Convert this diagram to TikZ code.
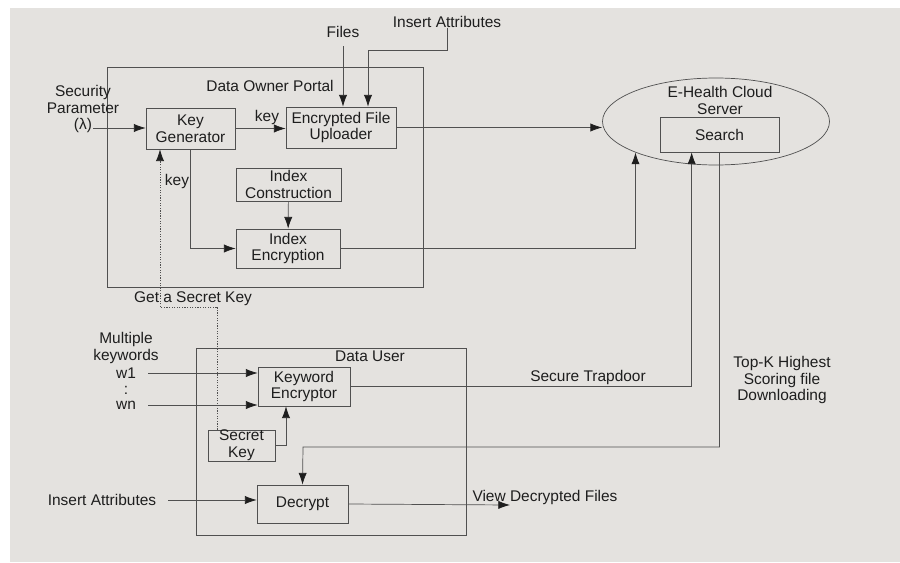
\documentclass[tikz,border=0pt]{standalone}
\usepackage{fontspec}
\setmainfont{Liberation Sans}
\usetikzlibrary{arrows.meta, shapes.geometric, calc, positioning}
\definecolor{paper}{HTML}{E4E2DF}
\definecolor{ink}{HTML}{1E1E1E}
\definecolor{linegray}{HTML}{505050}

\begin{document}
\begin{tikzpicture}[x=0.03cm, y=-0.03cm, font=\fontsize{13.2}{14.5}\selectfont, text=ink,
    sz/.style 2 args={minimum width=#1*0.03cm, minimum height=#2*0.03cm},
    box/.style={draw=linegray, line width=0.6pt, align=center, inner sep=0pt},
    lbl/.style={align=center, inner sep=0pt},
    conn/.style={draw=linegray, line width=0.6pt, -{Latex[length=10pt,width=7pt,color=ink]}}]
    \useasboundingbox (0,0) rectangle (900,562);
    \fill[paper] (10,8) rectangle (900,562);

    % data owner side
    \node[box, sz={316}{220}] (owner) at (265,177) {};
    \node[lbl] (ownertxt) at (270,86) {Data Owner Portal};
    \node[box, sz={89}{41}] (keygen) at (190.5,128.5) {Key\\Generator};
    \node[box, sz={110}{41}] (upl) at (341,127.5) {Encrypted File\\Uploader};
    \node[box, sz={105}{33}] (idxcon) at (288.5,184.5) {Index\\Construction};
    \node[box, sz={104}{39}] (idxenc) at (288,248.5) {Index\\Encryption};
    \node[lbl] (secparam) at (83,109) {Security\\Parameter\\(λ)};
    \coordinate (secin) at (93,128);
    \node[lbl] (files) at (343,32) {Files};
    \node[lbl] (insattr) at (447,22) {Insert Attributes};
    \coordinate (iaturn) at (368,50);
    \node[lbl] (key1) at (267,118) {key};
    \node[lbl] (key2) at (177,182) {key};

    % cloud
    \node[box, ellipse, sz={227}{87}] (cloud) at (716,121.5) {};
    \node[lbl] (cloudtxt) at (720,100) {E-Health Cloud\\Server};
    \node[box, sz={119}{35}] (search) at (719.5,134.5) {Search};

    % data user side
    \node[box, sz={270}{187}] (user) at (331,441.5) {};
    \node[lbl] (usertxt) at (370,356) {Data User};
    \node[box, sz={92}{39}] (kwenc) at (304,386.5) {Keyword\\Encryptor};
    \node[box, sz={67}{27}] (skey) at (241.5,445.5) {Secret\\Key};
    \node[box, sz={91}{38}] (decrypt) at (302.5,504) {Decrypt};
    \node[lbl] (getsk) at (193,299) {Get a Secret Key};
    \coordinate (gsk) at (160,307);
    \node[lbl] (multi) at (126,348) {Multiple\\keywords};
    \node[lbl] (w1) at (126,373) {w1};
    \node[lbl] (dots) at (126,390) {:};
    \node[lbl] (wn) at (126,405) {wn};
    \node[lbl] (insattr2) at (102,500) {Insert Attributes};
    \node[lbl] (trap) at (588,377) {Secure Trapdoor};
    \node[lbl] (topk) at (782,380) {Top-K Highest\\Scoring file\\Downloading};
    \coordinate (dlturn) at (303,447);
    \node[lbl] (view) at (545,497) {View Decrypted Files};
    \coordinate (viewend) at (510,505);

    \draw[conn] (secin) -- (secin -| keygen.west);
    \draw[conn] (keygen.east) -- (keygen.east -| upl.west);
    \draw[conn, shorten <=0.25cm] (files.south) -- (files.south |- upl.north);
    \draw[conn] (insattr.south) |- (iaturn) -- (iaturn |- upl.north);
    \draw[conn] (keygen.south) |- (idxenc.west);
    \draw[conn] (idxcon) -- (idxenc);
    \draw[conn] (upl.east) -- (upl.east -| cloud.west);
    \draw[conn] (idxenc.east) -| (cloud.south west);
    \draw[conn, dash pattern=on 1pt off 1.2pt] ([xshift=0.3cm]skey.north west) |- (gsk) -- (gsk |- keygen.south);
    \draw[conn, shorten <=0.36cm] (w1.east) -- (w1.east -| kwenc.west);
    \draw[conn, shorten <=0.36cm] (wn.east) -- (wn.east -| kwenc.west);
    \draw[conn] (skey.east) -| ([xshift=-0.54cm]kwenc.south);
    \draw[conn] (kwenc.east) -| ([xshift=0.96cm]search.south west);
    \draw[conn] (search.south) |- (dlturn) -- (decrypt.north);
    \draw[conn, shorten <=0.36cm] (insattr2.east) -- (insattr2.east -| decrypt.west);
    \draw[conn] (decrypt.east) -- (viewend);
\end{tikzpicture}
\end{document}
